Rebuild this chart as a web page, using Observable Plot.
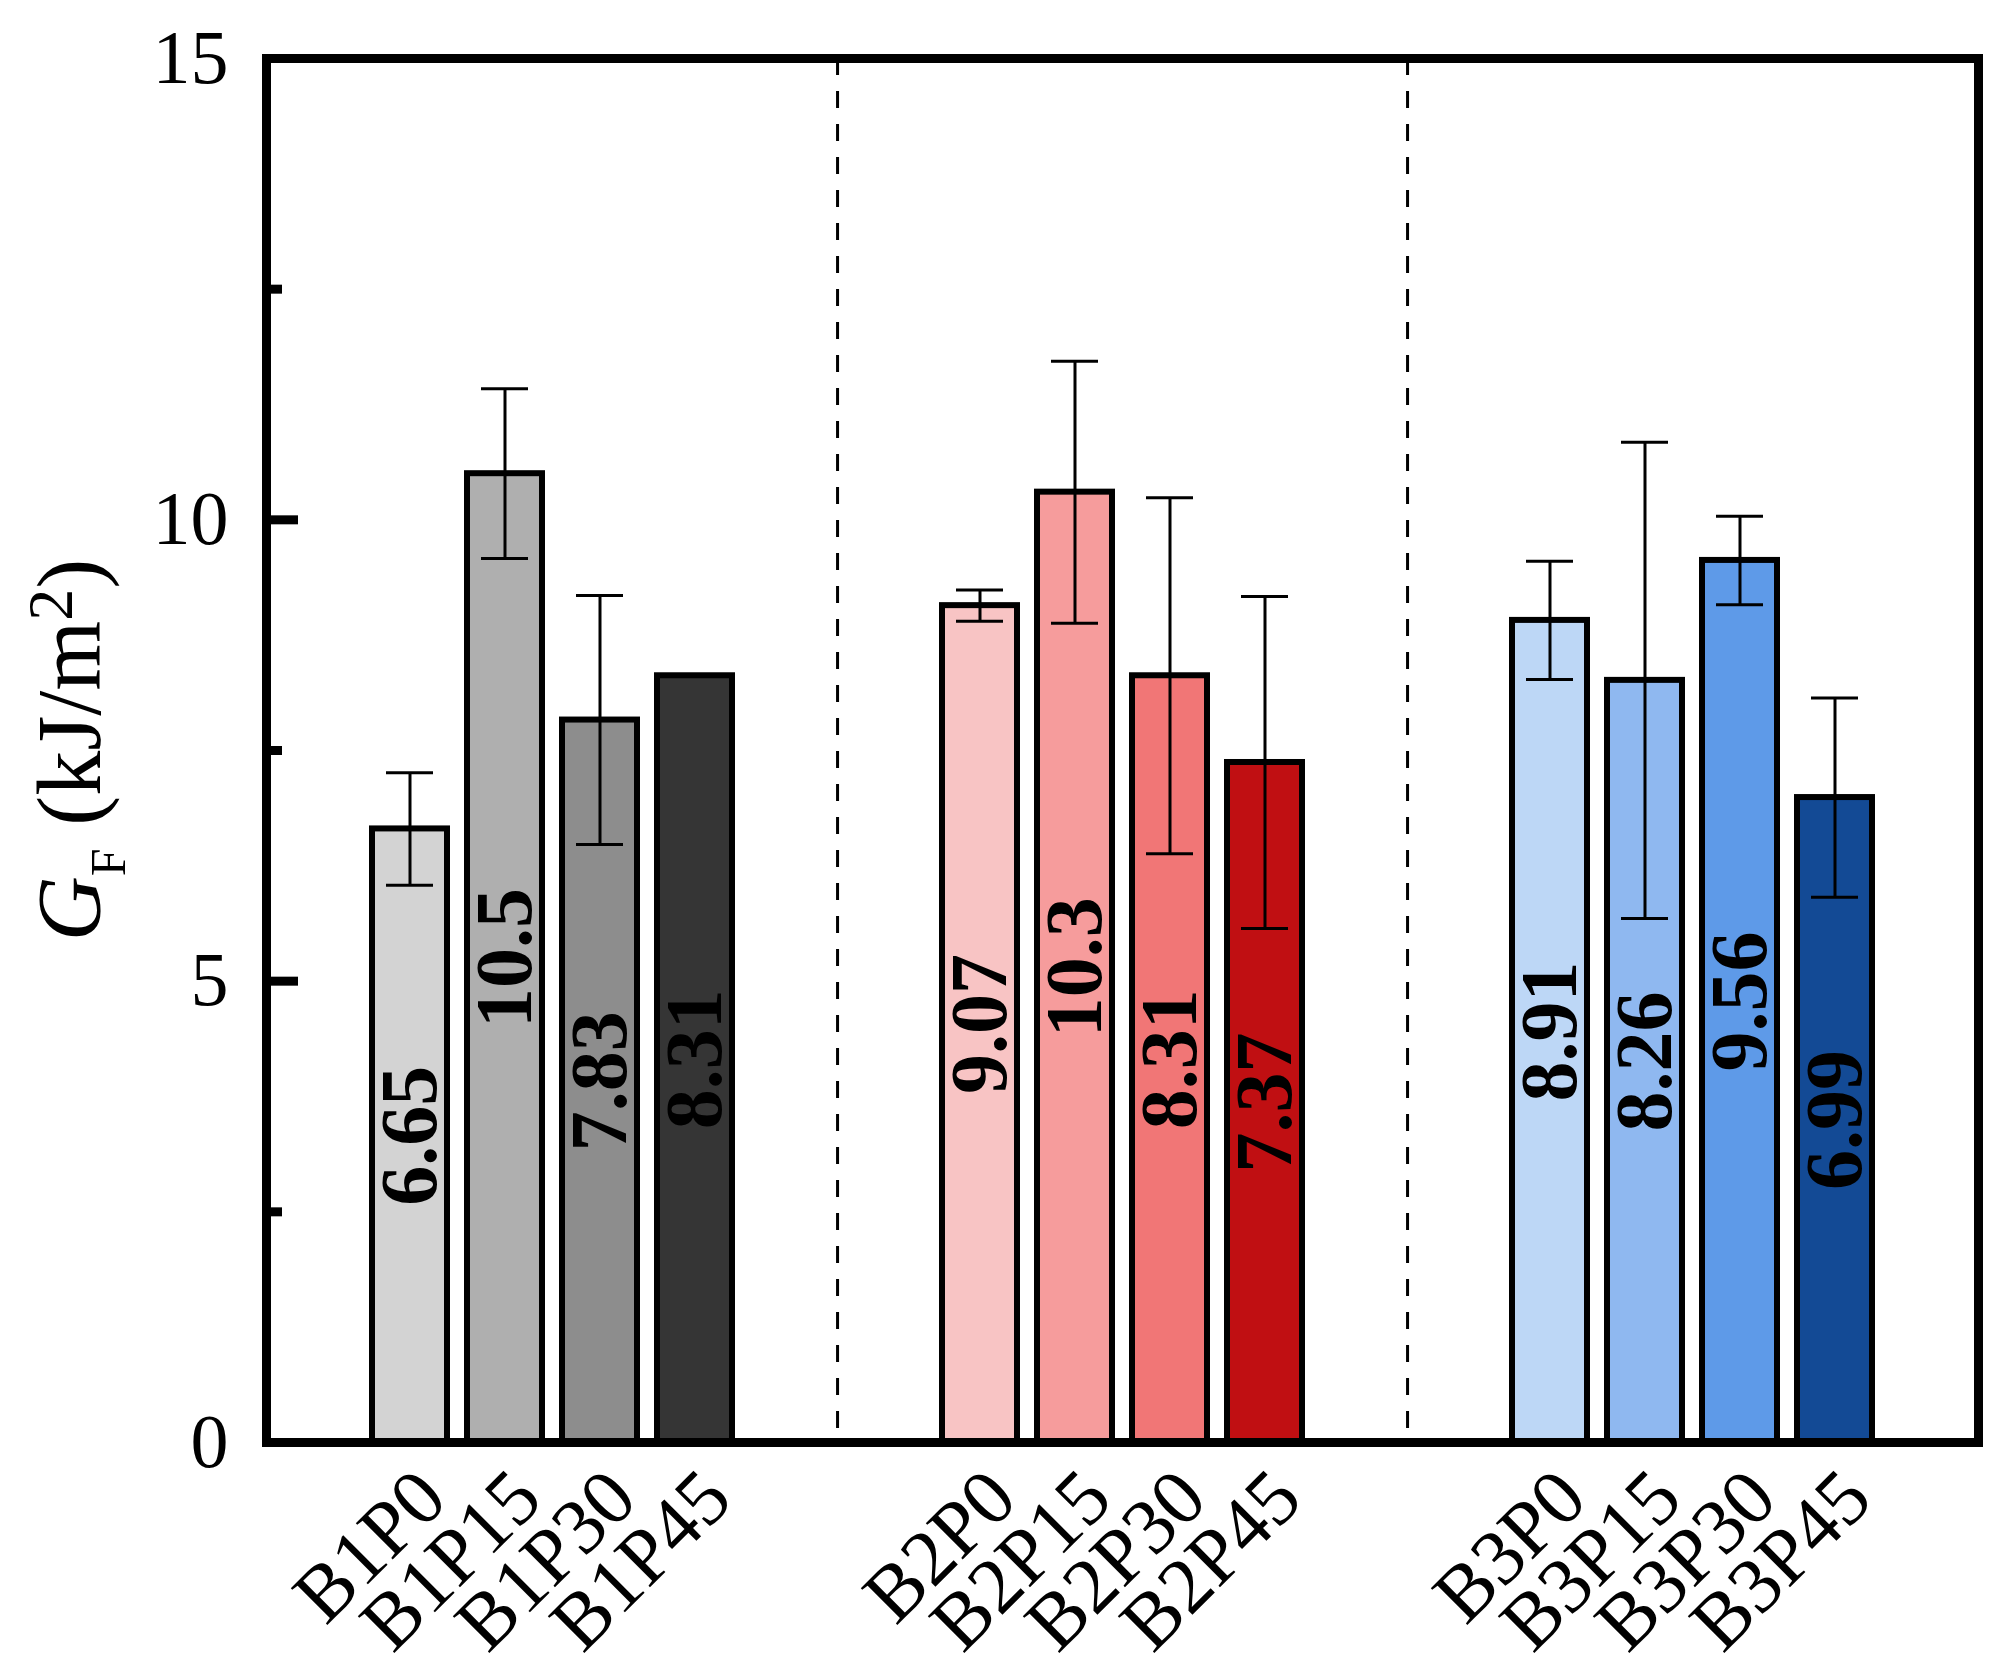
<!DOCTYPE html>
<html>
<head>
<meta charset="utf-8">
<script src="https://cdn.jsdelivr.net/npm/d3@7"></script>
<script src="https://cdn.jsdelivr.net/npm/@observablehq/plot@0.6"></script>
<style>
  html, body { margin: 0; padding: 0; background: white; overflow: hidden; }
</style>
</head>
<body>
<div id="chart"></div>
<script>
// groups and samples
const groups = ['B1', 'B2', 'B3']
const samples = ['B1P0', 'B1P15', 'B1P30', 'B1P45',
                 'B2P0', 'B2P15', 'B2P30', 'B2P45',
                 'B3P0', 'B3P15', 'B3P30', 'B3P45']
// G_F values (kJ/m2) and error bar half-widths
const values = [6.65, 10.5, 7.83, 8.31, 9.07, 10.3, 8.31, 7.37, 8.91, 8.26, 9.56, 6.99]
const errors = [0.61, 0.92, 1.35, 0, 0.17, 1.42, 1.93, 1.80, 0.64, 2.58, 0.48, 1.08]
const colors = ['#d3d3d3', '#afafaf', '#8d8d8d', '#353535',
                '#f8c4c4', '#f69c9c', '#f17676', '#c00f12',
                '#bdd7f6', '#8fb8f0', '#5e9ae8', '#134a95']
const yTicks = [0, 5, 10, 15]
const yMinorTicks = [2.5, 7.5, 12.5]

const W = 2013, H = 1672
const mL = 266, mR = 35, mT = 58, mB = 230

// each group sits between two empty slots
const domain = groups.flatMap(g => [`_${g}a`, ...samples.filter(s => s.startsWith(g)), `_${g}b`])
const step = (W - mL - mR) / domain.length

const data = samples.map((s, i) => ({sample: s, value: values[i], err: errors[i]}))
const withErr = data.filter(d => d.err > 0)

const serif = '"Liberation Serif", "Times New Roman", Times, serif'

let chart = Plot.plot({
  width: W,
  height: H,
  marginLeft: mL,
  marginRight: mR,
  marginTop: mT,
  marginBottom: mB,
  x: {domain: domain, paddingInner: 0.21, paddingOuter: 0.105},
  y: {domain: [0, 15]},
  color: {domain: samples, range: colors},
  style: {fontFamily: serif, color: 'black', background: 'white'},
  marks: [
    Plot.barY(data, {x: 'sample', y: 'value', fill: 'sample', stroke: 'black', strokeWidth: 6}),
    Plot.ruleX(withErr, {x: 'sample', y1: d => d.value - d.err, y2: d => d.value + d.err, strokeWidth: 3}),
    Plot.tickY(withErr, {x: 'sample', y: d => d.value - d.err, strokeWidth: 3, insetLeft: 14, insetRight: 14}),
    Plot.tickY(withErr, {x: 'sample', y: d => d.value + d.err, strokeWidth: 3, insetLeft: 14, insetRight: 14}),
    Plot.text(data, {
      x: 'sample', y: d => d.value / 2, text: d => String(d.value),
      rotate: -90, fontSize: 80, fontWeight: 'bold', fontFamily: serif, fill: 'black'
    }),
    // group separators
    Plot.ruleX(groups.slice(0, -1).map(g => `_${g}b`), {dx: step / 2, strokeDasharray: '17,16', strokeWidth: 3}),
    Plot.frame({stroke: 'black', strokeWidth: 9}),
    Plot.axisY({ticks: yTicks, tickSize: -32, strokeWidth: 9, tickFormat: () => '', label: null}),
    Plot.axisY({ticks: yMinorTicks, tickSize: -16, strokeWidth: 9, tickFormat: () => '', label: null}),
    Plot.axisY({ticks: yTicks, tickSize: 0, tickPadding: 38, fontSize: 76, fontFamily: serif, label: null}),
    Plot.axisX({
      ticks: samples, tickSize: 0, tickRotate: -45, tickPadding: 42, dx: 22,
      fontSize: 79, fontFamily: serif, textAnchor: 'end', lineAnchor: 'middle', label: null
    })
  ]
})

// y label with italic G, subscript F and superscript 2
const ylab = d3.select(chart).append('text')
  .attr('transform', `translate(${mL - 166},${(mT + H - mB) / 2}) rotate(-90)`)
  .attr('text-anchor', 'middle')
  .style('font-family', serif)
  .attr('font-size', 90)
  .attr('fill', 'black')
ylab.append('tspan').attr('font-style', 'italic').text('G')
ylab.append('tspan').attr('font-size', 50).attr('dy', 25).text('F')
ylab.append('tspan').attr('dy', -25).text(' (kJ/m')
ylab.append('tspan').attr('font-size', 64).attr('dy', -28).text('2')
ylab.append('tspan').attr('dy', 28).text(')')

d3.select('#chart').append(() => chart)
</script>
</body>
</html>
